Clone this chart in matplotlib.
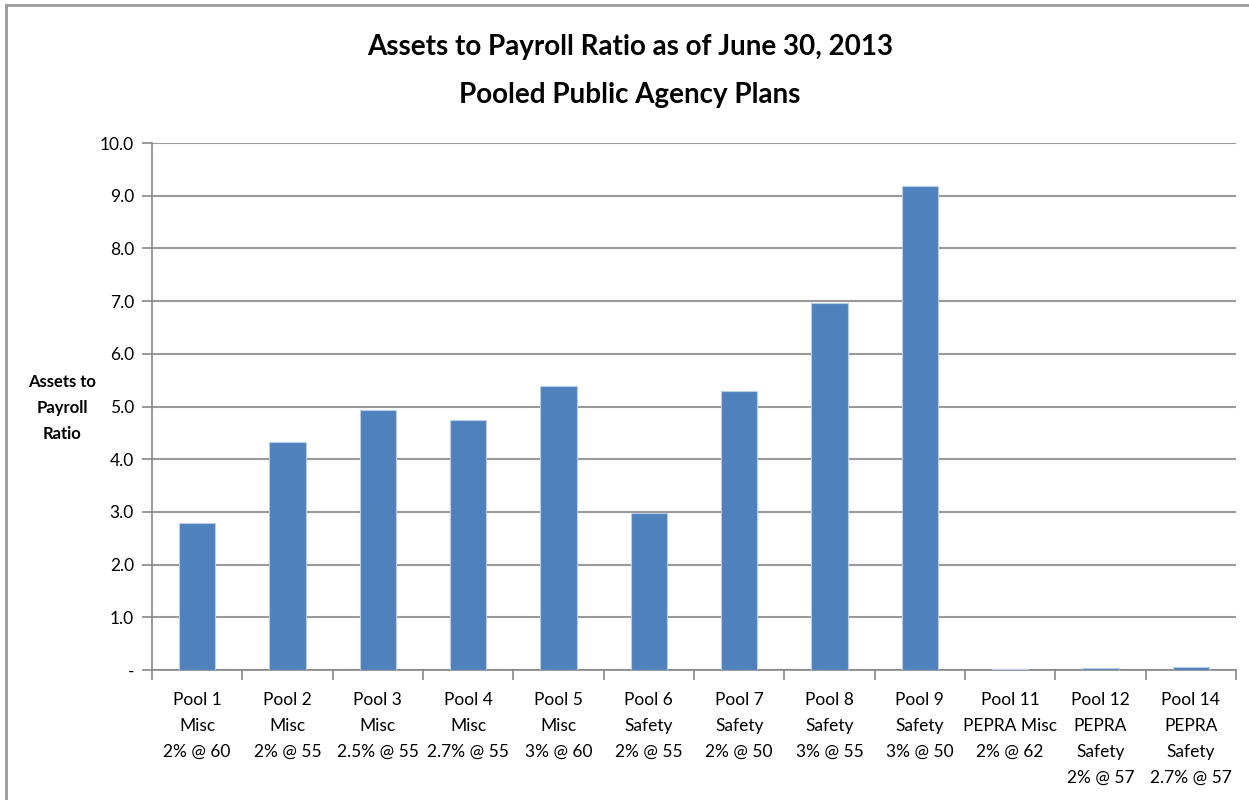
import matplotlib.pyplot as plt
from matplotlib.patches import Rectangle
import numpy as np

# values
pools = ['Pool 1\nMisc\n2% @ 60', 'Pool 2\nMisc\n2% @ 55', 'Pool 3\nMisc\n2.5% @ 55',
         'Pool 4\nMisc\n2.7% @ 55', 'Pool 5\nMisc\n3% @ 60', 'Pool 6\nSafety\n2% @ 55',
         'Pool 7\nSafety\n2% @ 50', 'Pool 8\nSafety\n3% @ 55', 'Pool 9\nSafety\n3% @ 50',
         'Pool 11\nPEPRA Misc\n2% @ 62', 'Pool 12\nPEPRA\nSafety\n2% @ 57',
         'Pool 14\nPEPRA\nSafety\n2.7% @ 57']
ratios = [2.79, 4.32, 4.93, 4.74, 5.39, 2.97, 5.30, 6.97, 9.19, 0.02, 0.03, 0.05]
yticks = [0, 1, 2, 3, 4, 5, 6, 7, 8, 9, 10]

plt.rcParams['font.family'] = ['Lato', 'DejaVu Sans']

fig = plt.figure(figsize=(12.49, 8), dpi=100)
ax = fig.add_axes([152 / 1249, 130 / 800, 1084 / 1249, 527 / 800])

x = np.arange(len(pools))
ax.bar(x, ratios, width=0.4, color='#4F81BD', edgecolor='#B9CDE5', linewidth=0.8, zorder=3)

ax.set_xlim(-0.5, len(pools) - 0.5)
ax.set_ylim(0, 10)
ax.set_yticks(yticks)
ax.set_yticklabels(['-' if v == 0 else f'{v:.1f}' for v in yticks], fontsize=12.5)
ax.set_xticks(x)
ax.set_xticklabels(pools, fontsize=12.5, linespacing=1.75, va='top')
ax.set_xticks(np.arange(len(pools) + 1) - 0.5, minor=True)
ax.tick_params(axis='x', which='major', length=0, pad=16)
ax.tick_params(axis='x', which='minor', length=7, color='#888888', width=1.2)
ax.tick_params(axis='y', length=7, color='#888888', width=1.2, pad=6)

ax.grid(axis='y', color='#999999', linewidth=1.5, zorder=0)
for side in ['top', 'right']:
    ax.spines[side].set_visible(False)
for side in ['left', 'bottom']:
    ax.spines[side].set_color('#888888')
    ax.spines[side].set_linewidth(1.2)

fig.text(630 / 1249, 1 - 47 / 800, 'Assets to Payroll Ratio as of June 30, 2013',
         ha='center', va='center', fontsize=20, fontweight='bold')
fig.text(630 / 1249, 1 - 95 / 800, 'Pooled Public Agency Plans',
         ha='center', va='center', fontsize=20, fontweight='bold')
fig.text(62 / 1249, 1 - 408 / 800, 'Assets to\nPayroll\nRatio', ha='center', va='center',
         fontsize=12, fontweight='bold', linespacing=1.8)

# outer chart frame (right and bottom edges run off the picture)
fig.patches.append(Rectangle((6 / 1249, -0.05), 1.1, 1 - 5 / 800 + 0.05,
                             transform=fig.transFigure, fill=False,
                             edgecolor='#999999', linewidth=2))

fig.savefig('out.png', dpi=100)
